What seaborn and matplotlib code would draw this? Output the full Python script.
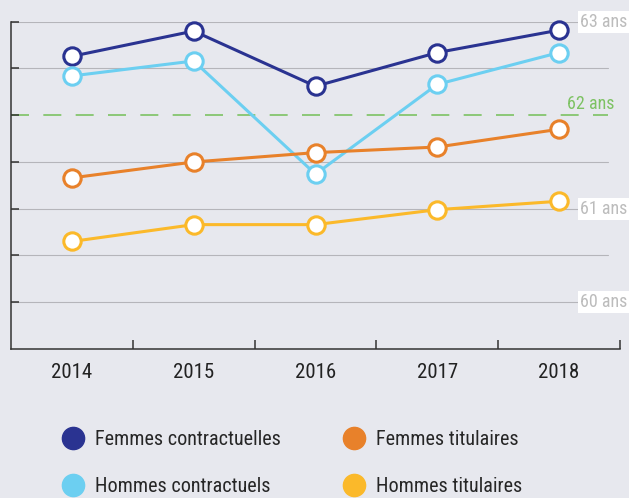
import seaborn as sns
import matplotlib.pyplot as plt
import matplotlib.transforms as mtransforms
from matplotlib.lines import Line2D
from matplotlib import font_manager
import numpy as np
import pandas as pd

# values (age in years)
years = [2014, 2015, 2016, 2017, 2018]
femmes_contractuelles = [62.63, 62.90, 62.31, 62.67, 62.91]
hommes_contractuels = [62.42, 62.58, 61.37, 62.33, 62.67]
femmes_titulaires = [61.33, 61.50, 61.60, 61.66, 61.85]
hommes_titulaires = [60.65, 60.83, 60.83, 60.99, 61.08]

series = ['Femmes contractuelles', 'Hommes contractuels', 'Femmes titulaires', 'Hommes titulaires']
colors = ['#2a3391', '#6ccff1', '#e8812a', '#fbb92a']
grid_ages = [60, 60.5, 61, 61.5, 62.5, 63]
age_labels = {63: '63 ans', 61: '61 ans', 60: '60 ans'}

df = pd.DataFrame({
    'annee': years * 4,
    'age': femmes_contractuelles + hommes_contractuels + femmes_titulaires + hommes_titulaires,
    'serie': [s for s in series for _ in years],
})

bg = '#e7e8ee'
sns.set_theme(style='ticks', rc={'axes.facecolor': bg, 'figure.facecolor': bg})
# a narrow face if one is installed
names = {f.name for f in font_manager.fontManager.ttflist}
fam = 'DejaVu Sans'
for cand in ['Roboto Condensed', 'Liberation Sans Narrow', 'Open Sans Condensed', 'Noto Sans Condensed']:
    if cand in names:
        fam = cand
        break
plt.rcParams['font.family'] = [fam, 'DejaVu Sans']
plt.rcParams['font.stretch'] = 'condensed'

fig = plt.figure(figsize=(6.29, 4.98), dpi=100)
ax = fig.add_axes([11 / 629, 1 - 349 / 498, 609 / 629, 327.3 / 498])

# grid and 62 ans reference
for g in grid_ages:
    ax.axhline(g, 0, 0.98, color='#b5b5ba', lw=0.8, zorder=0)
ax.axhline(62, 0, 0.98, color='#7dc263', lw=1.2, dashes=(10.8, 8.6), zorder=0)

sns.lineplot(data=df, x='annee', y='age', hue='serie', hue_order=series,
             palette=colors, marker='o', markersize=12.5, linewidth=2.2,
             legend=False, ax=ax, zorder=3)
for line, c in zip(ax.lines[-4:], colors):
    line.set_markerfacecolor('white')
    line.set_markeredgecolor(c)
    line.set_markeredgewidth(2.2)
    line.set_clip_on(False)

ax.set_xlim(2013.5, 2018.5)
ax.set_ylim(59.5, 63)
ax.set_xlabel('')
ax.set_ylabel('')
ax.set_yticks(np.arange(60, 63.01, 0.5))
ax.tick_params(axis='y', direction='in', length=6, width=1.1, color='#333333', labelleft=False)
ax.set_xticks([2014.5, 2015.5, 2016.5, 2017.5, 2018.5])
ax.set_xticklabels([])
ax.tick_params(axis='x', which='major', direction='in', length=6.5, width=1.1, color='#333333')
ax.set_xticks(years, minor=True)
ax.set_xticklabels([str(y) for y in years], minor=True)
ax.tick_params(axis='x', which='minor', length=0, pad=10, labelsize=15, labelcolor='#222222')
sns.despine(ax=ax)
for s in ['left', 'bottom']:
    ax.spines[s].set_color('#333333')
    ax.spines[s].set_linewidth(1.1)

trans = mtransforms.blended_transform_factory(fig.transFigure, ax.transData)
for age, lab in age_labels.items():
    ax.text(627 / 629, age, lab, transform=trans, ha='right', va='center',
            color='#bcbcbc', fontsize=13, zorder=5,
            bbox=dict(facecolor='white', edgecolor='none', pad=1.5))
ax.text(614 / 629, 62.02, '62 ans', transform=trans, ha='right', va='bottom',
        color='#7dc263', fontsize=13, zorder=5)

handles = [Line2D([], [], marker='o', linestyle='none', markersize=16, color=c) for c in colors]
fig.legend(handles, series, ncol=2, loc='upper left', bbox_to_anchor=(63 / 629, 1 - 430 / 498),
           frameon=False, fontsize=14.5, handlelength=1, handletextpad=0.6,
           columnspacing=3.1, labelspacing=1.4, borderpad=0, borderaxespad=0)

fig.savefig('out.png', dpi=100)
